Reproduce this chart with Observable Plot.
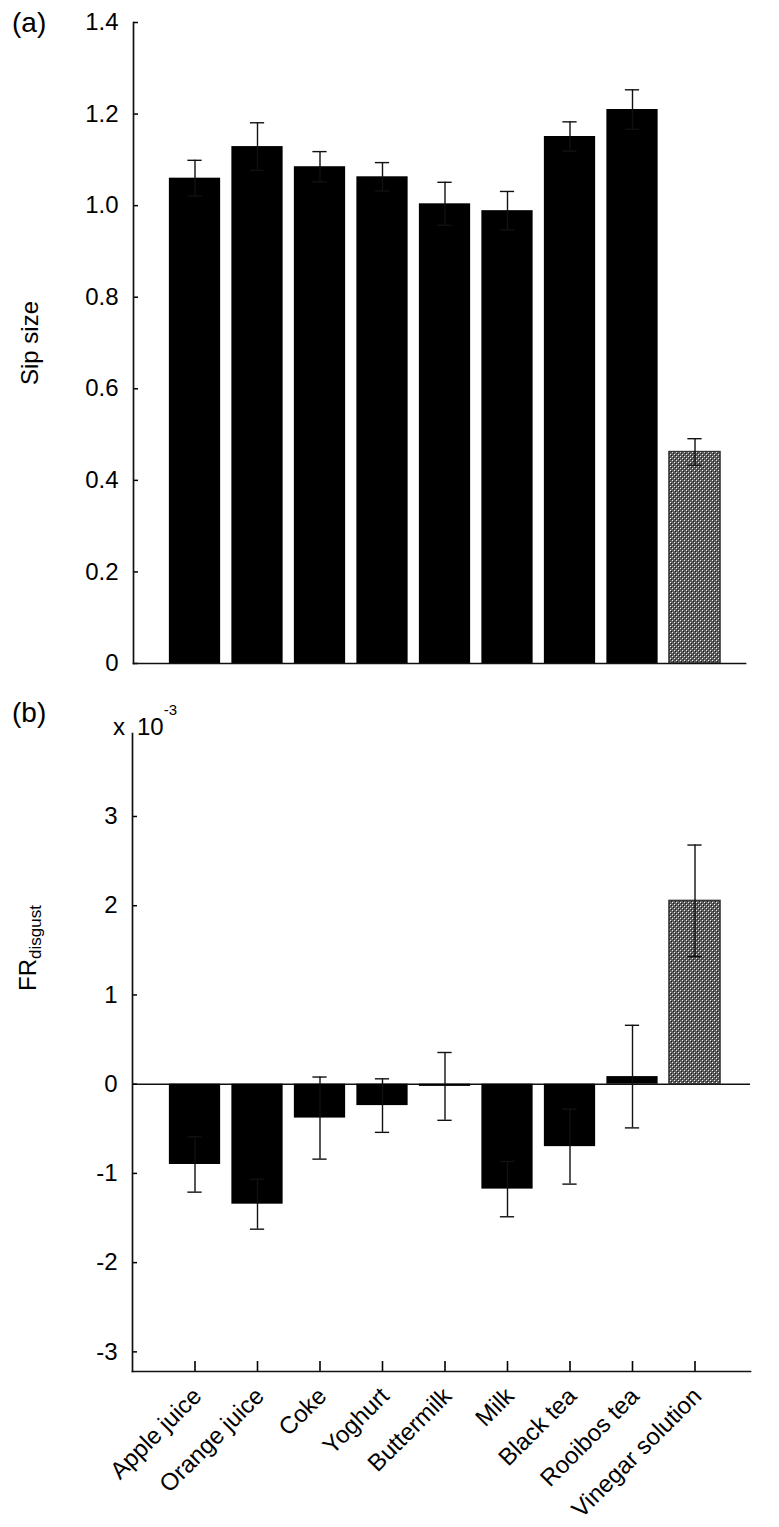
<!DOCTYPE html>
<html><head><meta charset="utf-8">
<script src="https://cdn.jsdelivr.net/npm/d3@7"></script>
<script src="https://cdn.jsdelivr.net/npm/@observablehq/plot@0.6"></script>
<style>body{margin:0;background:#fff} svg{display:block}</style>
</head><body><div id="chart"></div>
<script>
const drinks = ["Apple juice","Orange juice","Coke","Yoghurt","Buttermilk","Milk","Black tea","Rooibos tea","Vinegar solution"];
const sipSize = [1.06, 1.129, 1.085, 1.063, 1.004, 0.989, 1.151, 1.21, 0.462];
const sipSizeErr = [0.039, 0.052, 0.033, 0.031, 0.047, 0.042, 0.032, 0.043, 0.029];
const frDisgust = [-0.90, -1.345, -0.38, -0.24, -0.025, -1.176, -0.70, 0.085, 2.055];
const frDisgustErr = [0.31, 0.28, 0.46, 0.30, 0.38, 0.31, 0.42, 0.575, 0.625];
const sipTicks = [0, 0.2, 0.4, 0.6, 0.8, 1.0, 1.2, 1.4];
const frTicks = [-3, -2, -1, 0, 1, 2, 3];
const aversive = "Vinegar solution";

const sipData = drinks.map((d, i) => ({drink: d, v: sipSize[i], e: sipSizeErr[i]}));
const frData = drinks.map((d, i) => ({drink: d, v: frDisgust[i], e: frDisgustErr[i]}));

const font = "'Liberation Sans', Arial, Helvetica, sans-serif";
const ink = "#111";
const FS = 24;

function addPattern(svg, id) {
  const defs = d3.select(svg).insert("defs", ":first-child");
  const p = defs.append("pattern").attr("id", id).attr("patternUnits", "userSpaceOnUse")
    .attr("width", 4).attr("height", 4);
  p.append("rect").attr("width", 4).attr("height", 4).attr("fill", "#5e5e5e");
  [[0,0,"#f0f0f0"],[2,2,"#f0f0f0"],[1,1,"#1e1e1e"],[3,3,"#1e1e1e"]].forEach(([x,y,c]) =>
    p.append("rect").attr("x", x).attr("y", y).attr("width", 1).attr("height", 1).attr("fill", c));
}

function barMarks(data, pid) {
  return [
    Plot.barY(data.filter(d => d.drink !== aversive), {x: "drink", y: "v", fill: "#000"}),
    Plot.barY(data.filter(d => d.drink === aversive), {x: "drink", y: "v", fill: `url(#${pid})`, stroke: "#333", strokeWidth: 1.3}),
    Plot.ruleX(data, {x: "drink", y1: d => d.v - d.e, y2: d => d.v + d.e, stroke: ink, strokeWidth: 1.4}),
    Plot.tickY(data, {x: "drink", y: d => d.v + d.e, stroke: ink, strokeWidth: 1.4, insetLeft: 18.5, insetRight: 18.5}),
    Plot.tickY(data, {x: "drink", y: d => d.v - d.e, stroke: ink, strokeWidth: 1.4, insetLeft: 18.5, insetRight: 18.5})
  ];
}

const styleOpt = {fontFamily: font, fontSize: FS + "px", color: "#000", background: "#fff", overflow: "visible"};

function addText(sel, x, y, str, size) {
  return sel.append("text").attr("x", x).attr("y", y).attr("text-anchor", "start")
    .style("font-size", (size || FS) + "px").style("font-family", font).attr("fill", "#000").text(str);
}

// ---- Panel (a)
const panelA = Plot.plot({
  width: 779, height: 690,
  marginLeft: 133, marginRight: 34, marginTop: 22, marginBottom: 27,
  style: styleOpt,
  x: {domain: drinks, paddingInner: 0.18, paddingOuter: 0.09, round: false, insetLeft: 30.25, insetRight: 19.25, axis: null},
  y: {domain: [0, 1.4], axis: null},
  marks: [
    ...barMarks(sipData, "chkA"),
    Plot.axisY({ticks: sipTicks, tickFormat: d => d === 0 ? "0" : d.toFixed(1), tickSize: -5, tickPadding: 20, strokeWidth: 1.5, fontSize: FS, label: null}),
    Plot.frame({anchor: "left", stroke: ink, strokeWidth: 1.7}),
    Plot.frame({anchor: "bottom", stroke: ink, strokeWidth: 1.7}),
    Plot.text(["Sip size"], {frameAnchor: "left", dx: -96, rotate: -90, fontSize: FS, textAnchor: "middle", lineAnchor: "bottom"})
  ]
});
addPattern(panelA, "chkA");
addText(d3.select(panelA), 12, 32, "(a)", 28);

// ---- Panel (b)
const panelB = Plot.plot({
  width: 779, height: 837,
  marginLeft: 132, marginRight: 29, marginTop: 43, marginBottom: 156,
  style: styleOpt,
  x: {domain: drinks, paddingInner: 0.18, paddingOuter: 0.09, round: false, insetLeft: 31.25, insetRight: 24.25, axis: null},
  y: {domain: [-3.22, 3.93], axis: null},
  marks: [
    Plot.ruleY([0], {stroke: ink, strokeWidth: 1.5}),
    ...barMarks(frData, "chkB"),
    Plot.axisY({ticks: frTicks, tickFormat: d => String(d), tickSize: -5, tickPadding: 20, strokeWidth: 1.5, fontSize: FS, label: null}),
    Plot.axisX({tickSize: -10, tickFormat: () => "", strokeWidth: 1.6, label: null}),
    Plot.frame({anchor: "left", stroke: ink, strokeWidth: 1.7}),
    Plot.frame({anchor: "bottom", stroke: ink, strokeWidth: 1.7}),
    Plot.text(drinks, {x: d => d, frameAnchor: "bottom", dx: 8, dy: 26, rotate: -45, textAnchor: "end", lineAnchor: "bottom", fontSize: FS})
  ]
});
addPattern(panelB, "chkB");
const sb = d3.select(panelB);
addText(sb, 12, 32, "(b)", 28);
addText(sb, 113, 45, "x");
const ten = addText(sb, 137, 45, "10");
ten.append("tspan").style("font-size", "15px").attr("dy", -20).text("-3");
const fr = sb.append("text").attr("transform", "translate(36,301) rotate(-90)").attr("text-anchor", "start")
  .style("font-size", FS + "px").style("font-family", font).attr("fill", "#000");
fr.append("tspan").text("FR");
fr.append("tspan").style("font-size", "17px").attr("dy", 5).text("disgust");

const chart = document.getElementById("chart");
chart.appendChild(panelA);
chart.appendChild(panelB);
</script>
</body></html>
